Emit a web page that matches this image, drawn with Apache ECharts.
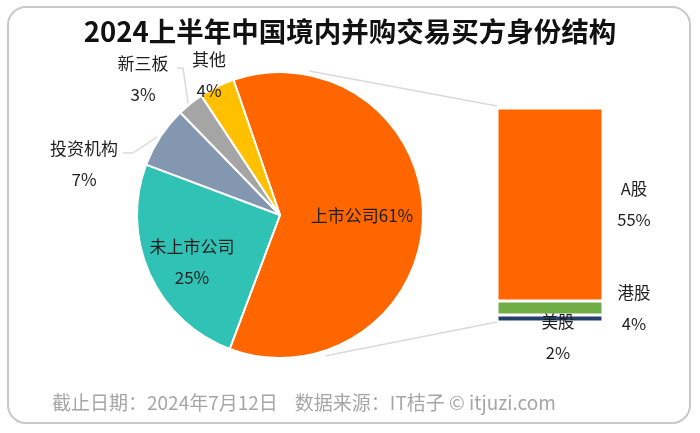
<!DOCTYPE html>
<html>
<head>
<meta charset="utf-8">
<script src="https://cdn.jsdelivr.net/npm/echarts@6/dist/echarts.min.js"></script>
<style>
html,body{margin:0;padding:0;background:#fff;}
#main{width:700px;height:433px;}
</style>
</head>
<body>
<div id="main"></div>
<script>
// ---- data ----
const titleText = '2024上半年中国境内并购交易买方身份结构';
const footerText = '截止日期：2024年7月12日    数据来源：IT桔子 © itjuzi.com';
const pieNames = ['上市公司', '未上市公司', '投资机构', '新三板', '其他'];
const pieValues = [61, 25, 7, 3, 4];
const pieColors = ['#FF6600', '#30C2B4', '#8497B0', '#A5A5A5', '#FFC000'];
const barNames = ['美股', '港股', 'A股'];
const barValues = [2, 4, 55];
const barColors = ['#263F6A', '#70AD47', '#FF6600'];

const FONT = '"Noto Sans CJK SC", "Noto Sans", sans-serif';
const TXT = '#1F1F1F';

// layout
const pieCenter = [280, 215];
const pieRadius = 143;
const barGrid = {left: 497, top: 108, width: 106, height: 214};

// label anchor positions (centres) and leader lines for pie labels
const pieLabelPos = [
  {x: 362, y: 216},
  {x: 192, y: 262},
  {x: 84, y: 164},
  {x: 143, y: 79},
  {x: 209, y: 75}
];
const pieLabelLines = [
  null,
  null,
  [[157, 137], [133, 153], [123, 153]],
  [[188, 103], [183, 68], [177, 68]],
  null
];

const chart = echarts.init(document.getElementById('main'), null, {renderer: 'canvas'});

const pieData = pieNames.map((n, i) => ({
  name: n,
  value: pieValues[i],
  itemStyle: {color: pieColors[i]},
  label: {
    position: i < 2 ? 'inside' : 'outside',
    formatter: i === 0 ? '{b}{c}%' : '{b}\n{c}%'
  },
  labelLine: {show: !!pieLabelLines[i]}
}));

const barTotal = barValues.reduce((a, b) => a + b, 0);

const barSeries = barNames.map((n, i) => ({
  type: 'bar',
  name: n,
  stack: 'listed',
  xAxisIndex: 0,
  yAxisIndex: 0,
  barWidth: barGrid.width,
  data: [barValues[i]],
  itemStyle: {color: barColors[i], borderColor: '#fff', borderWidth: 1.5},
  label: {
    show: true,
    formatter: '{a}\n{c}%',
    position: i === 0 ? [61, 22] : [137, '50%'],
    align: 'center',
    verticalAlign: 'middle',
    color: TXT,
    fontFamily: FONT,
    fontSize: 16.5,
    lineHeight: 31
  },
  silent: true
}));

const baseGraphics = [
  {
    type: 'rect',
    shape: {x: 8, y: 7, width: 682, height: 416, r: 18},
    style: {fill: '#fff', stroke: '#C8C8C8', lineWidth: 2},
    z: -10
  },
  {
    type: 'text',
    left: 'center',
    top: 18,
    style: {text: titleText, fontFamily: FONT, fontWeight: 'bold', fontSize: 27.5, fill: '#111'}
  },
  {
    type: 'text',
    left: 52,
    top: 393,
    style: {text: footerText, fontFamily: FONT, fontSize: 19, fill: '#A6A6A6'}
  }
];

const option = {
  backgroundColor: '#fff',
  animation: false,
  graphic: baseGraphics,
  grid: {left: barGrid.left, top: barGrid.top, width: barGrid.width, height: barGrid.height},
  xAxis: {type: 'category', data: ['上市公司'], show: false},
  yAxis: {type: 'value', min: 0, max: barTotal, show: false},
  series: [
    {
      type: 'pie',
      center: pieCenter,
      radius: pieRadius,
      startAngle: 109,
      clockwise: true,
      silent: true,
      data: pieData,
      itemStyle: {borderColor: '#fff', borderWidth: 2},
      label: {
        color: TXT,
        fontFamily: FONT,
        fontSize: 17,
        lineHeight: 31
      },
      labelLine: {lineStyle: {color: '#D9D9D9', width: 1.5}, length: 10, length2: 10},
      labelLayout: function (params) {
        const i = params.dataIndex;
        const p = pieLabelPos[i];
        const o = {x: p.x, y: p.y, align: 'center', verticalAlign: 'middle'};
        if (pieLabelLines[i]) o.labelLinePoints = pieLabelLines[i];
        return o;
      }
    }
  ].concat(barSeries)
};

chart.setOption(option);

// connector lines from the pie to the stacked bar
function piePoint(degFromTop, r) {
  const a = degFromTop * Math.PI / 180;
  return [pieCenter[0] + r * Math.sin(a), pieCenter[1] - r * Math.cos(a)];
}
const topStart = piePoint(11.5, 147);
const botStart = piePoint(162, 148);
const barTopLeft = [barGrid.left, chart.convertToPixel({yAxisIndex: 0}, barTotal) - 2];
const barBotLeft = [barGrid.left, chart.convertToPixel({yAxisIndex: 0}, 0)];
chart.setOption({
  graphic: baseGraphics.concat([
    {
      type: 'line',
      shape: {x1: topStart[0], y1: topStart[1], x2: barTopLeft[0], y2: barTopLeft[1]},
      style: {stroke: '#D9D9D9', lineWidth: 1.5},
      z: -5
    },
    {
      type: 'line',
      shape: {x1: botStart[0], y1: botStart[1], x2: barBotLeft[0], y2: barBotLeft[1]},
      style: {stroke: '#D9D9D9', lineWidth: 1.5},
      z: -5
    }
  ])
}, {replaceMerge: ['graphic']});
</script>
</body>
</html>
